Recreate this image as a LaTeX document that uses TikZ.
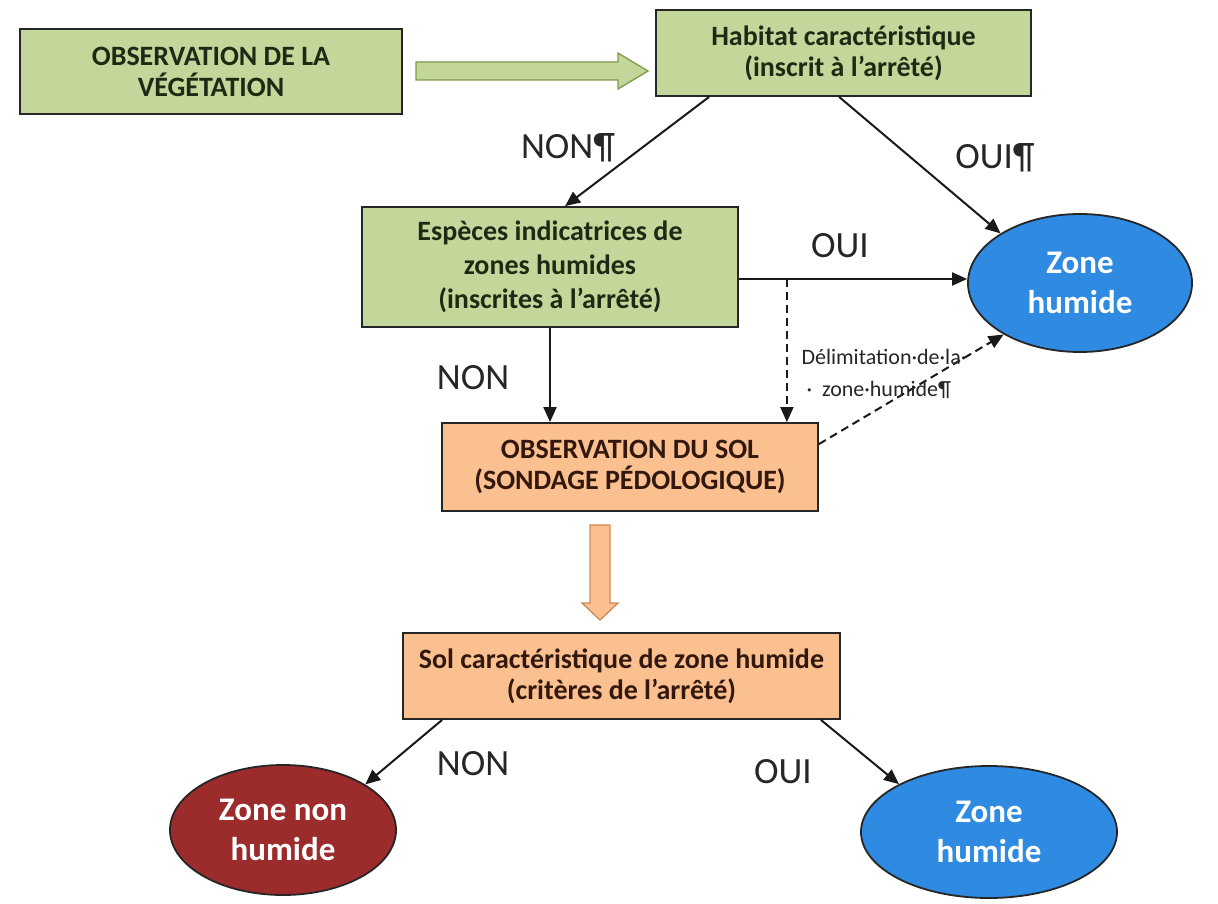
\documentclass[tikz,border=0pt]{standalone}
\usepackage{fontspec}
\setmainfont{Carlito}
\usetikzlibrary{arrows.meta,calc,shapes.geometric}
\definecolor{vert}{HTML}{C4D79B}
\definecolor{vertbord}{HTML}{7E9A4E}
\definecolor{orange}{HTML}{FAC08F}
\definecolor{orangebord}{HTML}{D0885A}
\definecolor{bleu}{HTML}{2F8AE2}
\definecolor{rouge}{HTML}{9C2B2B}
\definecolor{txtvert}{HTML}{1E2A14}
\definecolor{txtorange}{HTML}{33180F}
\begin{document}
\begin{tikzpicture}[x=1pt,y=-1pt,
  box/.style={draw=black!85, line width=1.8pt, align=center, inner sep=0pt,
    font=\fontsize{28}{31}\selectfont\bfseries},
  greenbox/.style={box, fill=vert, text=txtvert},
  orangebox/.style={box, fill=orange, text=txtorange},
  zone/.style={ellipse, draw=black!85, line width=1.8pt, inner sep=0pt, align=center,
    text=white, font=\fontsize{33}{40}\selectfont\bfseries},
  lab/.style={font=\fontsize{37}{40}\selectfont, text=black!85},
  conn/.style={line width=2pt, black!90, -{Triangle[length=15pt,width=13pt]}},
  dconn/.style={conn, dash pattern=on 8pt off 5pt}]
\useasboundingbox (0,0) rectangle (1218,904);
\fill[white] (0,0) rectangle (1218,904);

\node[greenbox, minimum width=382pt, minimum height=85pt] (b1) at (211,71.5) {OBSERVATION DE LA\\VÉGÉTATION};
\node[greenbox, minimum width=375pt, minimum height=86pt] (b2) at (843.5,53) {Habitat caractéristique\\(inscrit à l’arrêté)};
\node[greenbox, minimum width=376pt, minimum height=120pt, font=\fontsize{28}{34}\selectfont\bfseries] (b3) at (550,267) {Espèces indicatrices de\\zones humides\\(inscrites à l’arrêté)};
\node[orangebox, minimum width=376pt, minimum height=88pt] (b4) at (630,467) {OBSERVATION DU SOL\\(SONDAGE PÉDOLOGIQUE)};
\node[orangebox, minimum width=437pt, minimum height=86pt] (b5) at (621.5,676) {Sol caractéristique de zone humide\\(critères de l’arrêté)};

\node[zone, fill=bleu, minimum width=224pt, minimum height=138pt] (zh1) at (1080,283) {Zone\\humide};
\node[zone, fill=rouge, minimum width=226pt, minimum height=130pt] (znh) at (283,830) {Zone non\\humide};
\node[zone, fill=bleu, minimum width=256pt, minimum height=132pt] (zh2) at (989,832) {Zone\\humide};

% fat arrows
\filldraw[fill=vert, draw=vertbord, line width=1.3pt]
  (416,62) -- (618,62) -- (618,53) -- (648,71) -- (618,89) -- (618,80) -- (416,80) -- cycle;
\filldraw[fill=orange, draw=orangebord, line width=1.3pt]
  (590,525) -- (610,525) -- (610,603) -- (618,603) -- (600,620) -- (582,603) -- (590,603) -- cycle;

% connectors
\draw[conn] ($(b2.south west)+(54,0)$) -- ($(b3.north west)+(204,0)$);
\draw[conn] ($(b2.south west)+(184,0)$) -- (zh1.148);
\coordinate (split) at ($(b3.east)+(48,12)$);
\draw[conn] ($(b3.east)+(0,12)$) -- (zh1.west |- split);
\draw[conn] (b3.south) -- (b3.south |- b4.north);
\draw[dconn] (split) -- (split |- b4.north);
\draw[dconn] ($(b4.north east)+(0,22)$) -- (zh1.214);
\draw[conn] ($(b5.south west)+(40,0)$) -- (znh.29);
\draw[conn] ($(b5.south east)+(-20,0)$) -- (zh2.152);

% labels
\node[lab] (l1) at (568,148) {NON¶};
\node[lab] (l2) at (995,158) {OUI¶};
\node[lab] (l3) at (840,246) {OUI};
\node[lab] (l4) at (473,378) {NON};
\node[lab] (l5) at (473,764) {NON};
\node[lab] (l6) at (783,772) {OUI};
\node[font=\fontsize{22}{32}\selectfont, text=black!85, align=left] (l7) at (884,374)
  {Délimitation·de·la·\\\ ·\ \ zone·humide¶};
\end{tikzpicture}
\end{document}
